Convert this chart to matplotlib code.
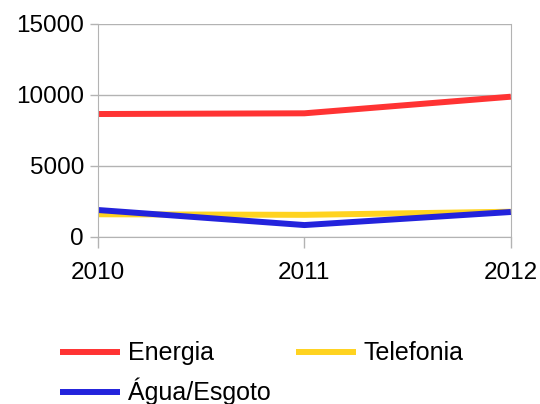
import matplotlib
matplotlib.use('Agg')
import matplotlib.pyplot as plt

plt.rcParams['font.family'] = ['Liberation Sans', 'DejaVu Sans']

years = [2010, 2011, 2012]
energia = [8660, 8710, 9880]
telefonia = [1600, 1560, 1780]
agua = [1900, 840, 1760]

fig = plt.figure(figsize=(5.4, 4.04), dpi=100)
ax = fig.add_axes([0.1815, 0.4134, 0.7645, 0.5272])

lw = 4.3
l1, = ax.plot(years, energia, color='#ff3333', lw=lw, label='Energia', solid_capstyle='butt')
l2, = ax.plot(years, telefonia, color='#ffd320', lw=lw, label='Telefonia', solid_capstyle='butt')
l3, = ax.plot(years, agua, color='#2323dc', lw=lw, label='Água/Esgoto', solid_capstyle='butt')

ax.set_xlim(2010, 2012)
ax.set_ylim(0, 15000)
ax.set_xticks(years)
ax.set_yticks([0, 5000, 10000, 15000])
ax.grid(axis='y', color='#b3b3b3', lw=1)
ax.set_axisbelow(True)
for s in ['left', 'right', 'bottom']:
    ax.spines[s].set_color('#b3b3b3')
ax.spines['top'].set_visible(False)
ax.tick_params(axis='both', colors='#b3b3b3', labelcolor='black', labelsize=17.5, width=1)
ax.tick_params(axis='y', length=6, pad=4)
ax.tick_params(axis='x', length=8, pad=10)

# row-major order like the original: Energia, Telefonia / Agua
fig.legend([l1, l3, l2], ['Energia', 'Água/Esgoto', 'Telefonia'],
           loc='upper left', bbox_to_anchor=(0.111, 0.155), ncol=2, frameon=False,
           fontsize=18, handlelength=2.4, columnspacing=1.0, handletextpad=0.32,
           labelspacing=0.5, borderaxespad=0, borderpad=0)

fig.savefig('out.png', dpi=100)
